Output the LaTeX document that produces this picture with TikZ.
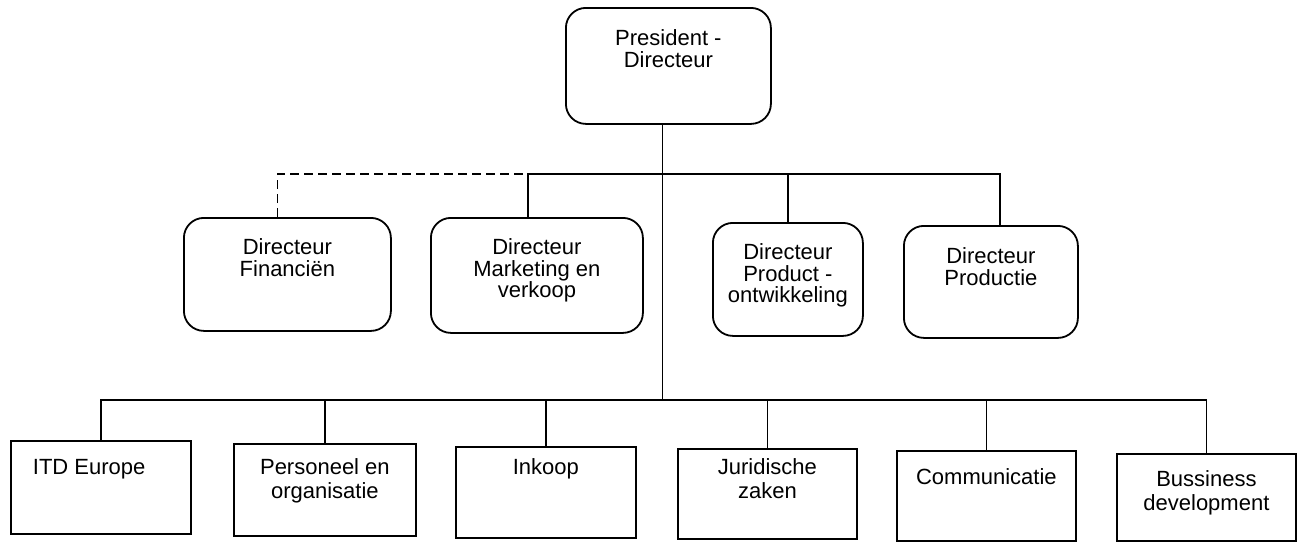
\documentclass[tikz,border=0pt]{standalone}
\usepackage{fontspec}
\setmainfont{Liberation Sans}
\begin{document}
\begin{tikzpicture}[x=1pt,y=-1pt,
  line width=1.8pt,
  rbox/.style={draw, rounded corners=20pt, anchor=north west, inner sep=0pt},
  sbox/.style={draw, anchor=north west, inner sep=0pt},
  txt/.style={inner sep=0pt, align=center, font=\fontsize{22}{21.5}\selectfont},
  txtlow/.style={inner sep=0pt, align=center, font=\fontsize{22}{24}\selectfont},
  link/.style={line width=1.8pt},
  dotted link/.style={line width=1.8pt, dash pattern=on 9pt off 5pt}]
\useasboundingbox (0,0) rectangle (1298,542);

% top level
\node[rbox, minimum width=205pt, minimum height=116pt] (pres) at (565,7) {};
\node[txt, anchor=north] (prest) at ([yshift=-22pt]pres.north) {President -\\Directeur};

% directors
\node[rbox, minimum width=207pt, minimum height=113pt] (fin) at (183,217) {};
\node[rbox, minimum width=212pt, minimum height=115pt] (mkt) at (430,217) {};
\node[rbox, minimum width=150pt, minimum height=113pt] (pdt) at (712,222) {};
\node[rbox, minimum width=174pt, minimum height=112pt] (pdc) at (903,225) {};
\node[txt, anchor=north] (fint) at ([yshift=-21pt]fin.north) {Directeur\\Financiën};
\node[txt, anchor=north] (mktt) at ([yshift=-21pt]mkt.north) {Directeur\\Marketing en\\verkoop};
\node[txt, anchor=north] (pdtt) at ([yshift=-21pt]pdt.north) {Directeur\\Product -\\ontwikkeling};
\node[txt, anchor=north] (pdct) at ([yshift=-22pt]pdc.north) {Directeur\\Productie};

% staff departments
\node[sbox, minimum width=180pt, minimum height=93pt] (itd) at (10,440) {};
\node[sbox, minimum width=182pt, minimum height=92pt] (pers) at (233,443) {};
\node[sbox, minimum width=180pt, minimum height=91pt] (ink) at (455,446) {};
\node[sbox, minimum width=179pt, minimum height=90pt] (jur) at (677,448) {};
\node[sbox, minimum width=179pt, minimum height=90pt] (com) at (896,450) {};
\node[sbox, minimum width=179pt, minimum height=87pt] (bus) at (1116,453) {};
\node[txtlow, anchor=north west] (itdt) at (32,458) {ITD Europe};
\node[txtlow, anchor=north] (perst) at ([yshift=-15pt]pers.north) {Personeel en\\organisatie};
\node[txtlow, anchor=north] (inkt) at ([yshift=-12pt]ink.north) {Inkoop};
\node[txtlow, anchor=north] (jurt) at ([yshift=-10pt]jur.north) {Juridische\\zaken};
\node[txtlow, anchor=north] (comt) at ([yshift=-18pt]com.north) {Communicatie};
\node[txtlow, anchor=north] (bust) at ([yshift=-17pt]bus.north) {Bussiness\\development};

% bar levels
\coordinate (tbar) at (0,174);
\coordinate (bbar) at (0,400);
\coordinate (spine) at ([xshift=-6pt]pres.south);
\coordinate (mktin) at ([xshift=-9pt]mkt.north);
\coordinate (pdcin) at ([xshift=9pt]pdc.north);
\coordinate (finin) at ([xshift=-10pt]fin.north);

% spine from the president down to the staff bar
\draw[link] (spine) -- (spine |- bbar);

% director bar
\draw[link] (mktin) -- (mktin |- tbar) -- (pdcin |- tbar) -- (pdcin);
\draw[link] (pdt.north) -- (pdt.north |- tbar);
\draw[dotted link] (finin) -- (finin |- tbar) -- (mktin |- tbar);

% staff bar
\draw[link] (itd.north) -- (itd.north |- bbar) -- (bus.north |- bbar) -- (bus.north);
\foreach \n in {pers,ink,jur,com}
  \draw[link] (\n.north) -- (\n.north |- bbar);
\end{tikzpicture}
\end{document}
